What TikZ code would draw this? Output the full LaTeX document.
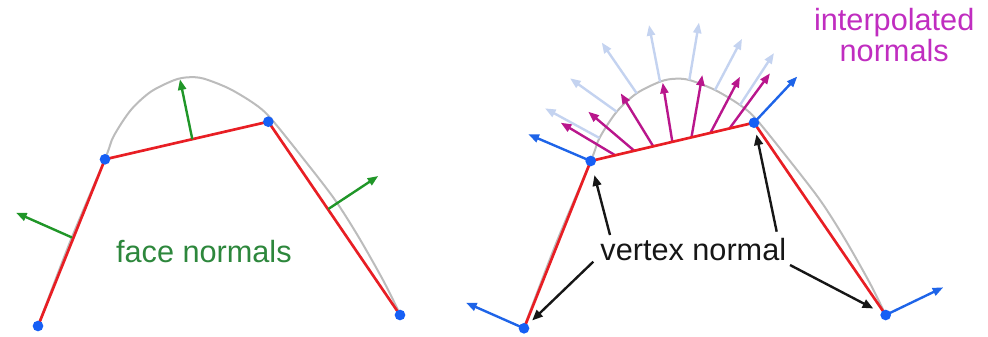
\documentclass[tikz,border=0pt]{standalone}
\usepackage{fontspec}
\setmainfont{Liberation Sans}
\usetikzlibrary{arrows.meta,calc}

\definecolor{curvegray}{RGB}{188,188,188}
\definecolor{edgered}{RGB}{232,30,36}
\definecolor{dotblue}{RGB}{22,95,245}
\definecolor{vnblue}{RGB}{30,100,232}
\definecolor{facegreen}{RGB}{32,150,40}
\definecolor{labelgreen}{RGB}{45,135,60}
\definecolor{interpmag}{RGB}{185,22,140}
\definecolor{labelmag}{RGB}{192,45,192}
\definecolor{truelight}{RGB}{196,211,240}
\definecolor{pointerblack}{RGB}{22,22,22}

\begin{document}
\begin{tikzpicture}[x=0.75pt,y=-0.75pt,
  tipstyle/.style={-{Triangle[length=8pt,width=6pt]}},
  curve/.style={draw=curvegray,line width=1.5pt},
  edge/.style={draw=edgered,line width=2pt,line join=round},
  facen/.style={tipstyle,draw=facegreen,fill=facegreen,line width=1.8pt},
  vertn/.style={tipstyle,draw=vnblue,fill=vnblue,line width=1.8pt},
  interpn/.style={tipstyle,draw=interpmag,fill=interpmag,line width=1.8pt},
  truen/.style={tipstyle,draw=truelight,fill=truelight,line width=1.8pt},
  pointer/.style={-{Triangle[length=8pt,width=6.5pt]},draw=pointerblack,line width=1.8pt},
  vdot/.style={circle,fill=dotblue,inner sep=0pt,minimum size=8pt},
  label/.style={font=\fontsize{23}{27}\selectfont,inner sep=0pt,anchor=base},
  surface/.pic={
    \draw[curve] plot[smooth,tension=0.5] coordinates {
      (38,326) (70,242) (105,159) (113.5,136.5) (130.7,110.2) (150.7,91.8)
      (174,80.2) (188,77.3) (203.3,78.5) (229,88.5) (254,103.5) (270,117.5)
      (302,157) (334,198.5) (358,236) (383,280) (398,310)};
  }]
\useasboundingbox (0,0) rectangle (988,336);

% ---------- left: piecewise-linear approximation with face normals ----------
\coordinate (A) at (38,326);
\coordinate (B) at (105,159.3);
\coordinate (C) at (268.3,121.7);
\coordinate (D) at (400,315);

\pic at (0,0) {surface};
\draw[edge] (A) -- (B) -- (C) -- (D);

\coordinate (fab) at (72,237.5);   \coordinate (fabtip) at (16,212.7);
\coordinate (fbc) at (192.3,139.2); \coordinate (fbctip) at (180,79.3);
\coordinate (fcd) at (328.3,209);  \coordinate (fcdtip) at (378.3,176);
\draw[facen] (fab) -- (fabtip);
\draw[facen] (fbc) -- (fbctip);
\draw[facen] (fcd) -- (fcdtip);

\node[vdot] (dotA) at (A) {};
\node[vdot] (dotB) at (B) {};
\node[vdot] (dotC) at (C) {};
\node[vdot] (dotD) at (D) {};

\node[label,text=labelgreen] (facelbl) at (203.9,262.5) {face normals};

% ---------- right: vertex normals and their interpolation ----------
\coordinate (G) at (524,328.3);
\coordinate (E) at (590.7,161);
\coordinate (F) at (754,122.7);
\coordinate (H) at (885.7,315);

\pic at (486,1.5) {surface};

% true normals of the smooth curve (faded)
\foreach \bx/\by/\tx/\ty [count=\i] in {
    599.5/138/545/108.3, 616.7/111.7/570/78.3, 636.7/93.3/601.7/42.5,
    660/81.7/649/25, 689.3/80/699/22.5, 715/90/742/38.8, 740/105/774/53} {
  \coordinate (tb\i) at (\bx,\by);
  \coordinate (tt\i) at (\tx,\ty);
  \draw[truen] (tb\i) -- (tt\i);
}

% interpolated normals along the top edge
\foreach \t/\tx/\ty [count=\i] in {
    0.15/560.7/122.7, 0.267/588.3/111.7, 0.383/620.7/93.3, 0.5/662.7/82.7,
    0.617/702.3/75, 0.733/740/76.7, 0.85/770/73.3} {
  \coordinate (ib\i) at ($(E)!\t!(F)$);
  \coordinate (it\i) at (\tx,\ty);
  \draw[interpn] (ib\i) -- (it\i);
}

\draw[edge] (G) -- (E) -- (F) -- (H);

% vertex normals
\coordinate (Gtip) at (466,302.7);
\coordinate (Etip) at (528.3,134.3);
\coordinate (Ftip) at (797.3,76.5);
\coordinate (Htip) at (943.3,287.3);
\draw[vertn] (G) -- (Gtip);
\draw[vertn] (E) -- (Etip);
\draw[vertn] (F) -- (Ftip);
\draw[vertn] (H) -- (Htip);

\node[vdot] (dotG) at (G) {};
\node[vdot] (dotE) at (E) {};
\node[vdot] (dotF) at (F) {};
\node[vdot] (dotH) at (H) {};

\node[label,text=pointerblack] (vnlbl) at (693.3,260.7) {vertex normal};
\coordinate (pE) at (610,235);
\coordinate (pG) at (593.3,261.7);
\coordinate (pF) at (776.7,231.7);
\coordinate (pH) at (790,265);
\draw[pointer,shorten >=11pt] (pE) -- (E);
\draw[pointer,shorten >=8.5pt] (pG) -- (G);
\draw[pointer,shorten >=9pt] (pF) -- (F);
\draw[pointer,shorten >=10.5pt] (pH) -- (H);

\node[label,text=labelmag] (interpA) at (894.2,30) {interpolated};
\node[label,text=labelmag] (interpB) at (894.2,61.7) {normals};
\end{tikzpicture}
\end{document}
